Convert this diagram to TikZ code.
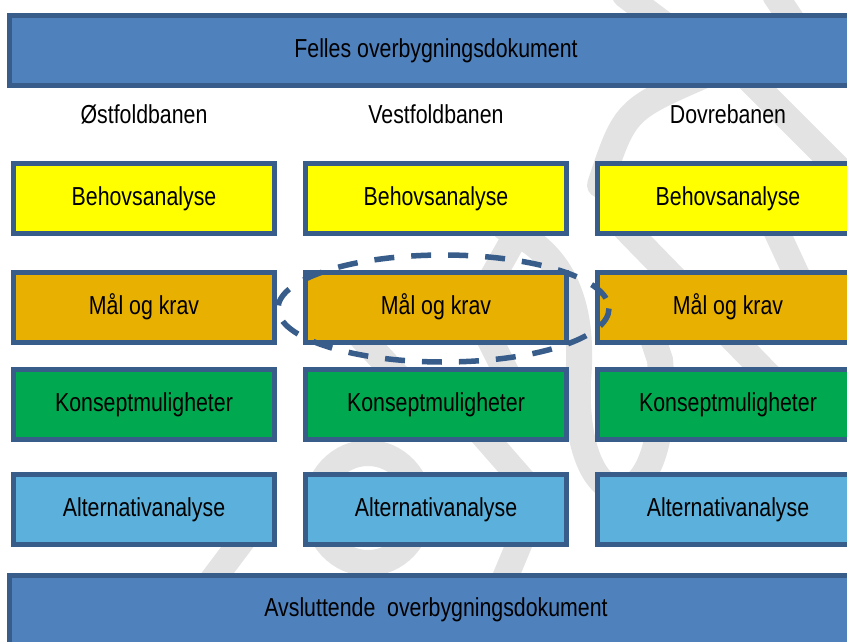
\documentclass[tikz,border=0pt]{standalone}
\usepackage{fontspec}
\setmainfont[FakeStretch=0.82]{Liberation Sans}
\definecolor{bordercol}{HTML}{385D8A}
\definecolor{barfill}{HTML}{4F81BD}
\definecolor{yellowfill}{HTML}{FFFF00}
\definecolor{goldfill}{HTML}{E8B000}
\definecolor{greenfill}{HTML}{00A850}
\definecolor{skyfill}{HTML}{5BB1DB}
\definecolor{wmgray}{HTML}{E3E3E3}
\begin{document}
\begin{tikzpicture}[x=1pt,y=-1pt,
  txt/.style={font=\fontsize{26}{30}\selectfont, text=black, inner sep=0pt},
  colbox/.style={txt, draw=bordercol, line width=5pt, minimum width=261pt, minimum height=70pt},
  bar/.style={draw=bordercol, fill=barfill, line width=5pt, minimum width=853pt, inner sep=0pt},
  wmstroke/.style={draw=wmgray, line width=26pt, line cap=round},
  ring/.style={draw=bordercol, line width=5.5pt, dash pattern=on 20pt off 17pt}]
\useasboundingbox (0,0) rectangle (847,641);
\clip (0,0) rectangle (847,641);
% watermark (faint background strokes)
\draw[wmstroke] (625,-5) -- (665,25);
\draw[wmstroke] (775,-5) -- (795,25);
\draw[wmstroke] (600,185) .. controls (625,110) .. (705,75);
\draw[wmstroke] (735,65) -- (855,185);
\draw[wmstroke] (625,228) -- (775,382);
\draw[wmstroke] (775,228) -- (800,282);
\draw[wmstroke] (505,228) .. controls (560,250) and (585,300) .. (578,380)
  .. controls (572,530) and (675,530) .. (660,360) -- (650,330);
\draw[wmstroke] (520,228) -- (488,285);
\draw[wmstroke] (355,330) -- (415,395);
\draw[wmstroke] (485,330) -- (515,390);
\draw[wmstroke] (368,508) ellipse [x radius=52, y radius=55];
\draw[wmstroke] (470,420) -- (540,500);
\draw[wmstroke] (205,590) -- (250,530);
\draw[wmstroke] (500,590) -- (525,530);
% bars
\node[bar, minimum height=70pt] (topbar) at (436,50.5) {};
\node[txt] (felles) at (436,50.5) {Felles overbygningsdokument};
\node[bar, minimum height=80pt] (botbar) at (436,615.5) {};
\node[txt] (avsl) at (436,610) {Avsluttende\ \ overbygningsdokument};
% column headers
\node[txt] (h1) at (144,114) {Østfoldbanen};
\node[txt] (h2) at (436,114) {Vestfoldbanen};
\node[txt] (h3) at (728,114) {Dovrebanen};
% column boxes
\foreach \c/\x in {1/144, 2/436, 3/728}{
  \node[colbox, fill=yellowfill] (beh\c) at (\x,198.5) {\raisebox{-1.5pt}{Behovsanalyse}};
  \node[colbox, fill=goldfill] (mal\c) at (\x,307) {\raisebox{-1.5pt}{Mål og krav}};
  \node[colbox, fill=greenfill] (kon\c) at (\x,404.5) {\raisebox{-1.5pt}{Konseptmuligheter}};
  \node[colbox, fill=skyfill] (alt\c) at (\x,509.5) {\raisebox{-1.5pt}{Alternativanalyse}};
}
% dashed highlight around the middle "Mål og krav"
\draw[ring] (443.5,308.5) ellipse [x radius=165.5, y radius=53.5];
\end{tikzpicture}
\end{document}
